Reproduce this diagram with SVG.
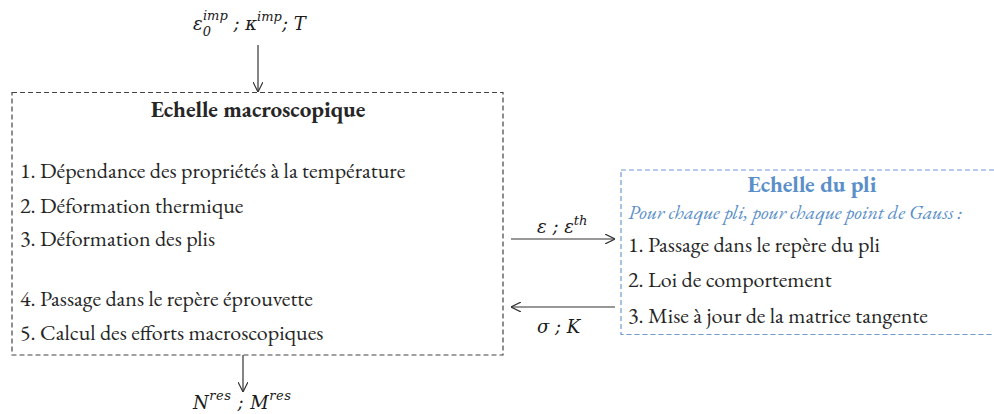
<svg xmlns="http://www.w3.org/2000/svg" width="994" height="414" viewBox="0 0 994 414">
<defs>
<style>
.t{font-family:"EB Garamond","Liberation Serif",serif;font-size:22px;fill:#262626}
.h{font-weight:bold;font-size:23px}
.b{fill:#5B8FC9}
.i{font-style:italic;font-size:20px}
.m{font-family:"DejaVu Serif","Liberation Serif",serif;font-style:italic;font-size:18px;fill:#1a1a1a}
.s{font-size:13px}
.box{fill:none;stroke:#444;stroke-width:1.2;stroke-dasharray:5,3}
.boxb{fill:none;stroke:#6A9AD0;stroke-width:1.2;stroke-dasharray:5,3}
.c{stroke:#333;stroke-width:1.2;fill:none;marker-end:url(#a)}
</style>
<marker id="a" viewBox="0 0 10 10" refX="10" refY="5" markerWidth="10" markerHeight="10" markerUnits="userSpaceOnUse" orient="auto">
<path d="M0,0 L10,5 L0,10" fill="none" stroke="#333" stroke-width="1.2"/>
</marker>
</defs>
<rect width="994" height="414" fill="#fff"/>
<g id="connectors">
<line class="c" x1="258" y1="45" x2="258" y2="92"/>
<line class="c" x1="243" y1="355" x2="243" y2="392"/>
<line class="c" x1="511" y1="239" x2="615" y2="239"/>
<line class="c" x1="615" y1="307" x2="511" y2="307"/>
</g>
<g id="input">
<text class="m" x="193" y="30">ε<tspan class="s" dy="6">0</tspan><tspan class="s" dx="-8" dy="-16">imp</tspan><tspan dy="10"> ; κ</tspan><tspan class="s" dy="-9">imp</tspan><tspan dy="9">; T</tspan></text>
</g>
<g id="output">
<text class="m" x="193" y="409" letter-spacing="0.5">N<tspan class="s" dy="-9">res</tspan><tspan dy="9"> ; M</tspan><tspan class="s" dy="-9">res</tspan></text>
</g>
<g id="macro">
<rect class="box" x="12" y="92.5" width="491" height="262.5"/>
<text class="t h" x="258" y="117" text-anchor="middle">Echelle macroscopique</text>
<text class="t" x="20" y="178">1. Dépendance des propriétés à la température</text>
<text class="t" x="20" y="213">2. Déformation thermique</text>
<text class="t" x="20" y="246">3. Déformation des plis</text>
<text class="t" x="20" y="306">4. Passage dans le repère éprouvette</text>
<text class="t" x="20" y="340">5. Calcul des efforts macroscopiques</text>
</g>
<g id="pli">
<rect class="boxb" x="621" y="170" width="375" height="164.5"/>
<text class="t h b" x="812" y="192" text-anchor="middle">Echelle du pli</text>
<text class="t i b" x="628" y="219">Pour chaque pli, pour chaque point de Gauss :</text>
<text class="t" x="628" y="252">1. Passage dans le repère du pli</text>
<text class="t" x="628" y="287">2. Loi de comportement</text>
<text class="t" x="628" y="323">3. Mise à jour de la matrice tangente</text>
</g>
<g id="labels">
<text class="m" x="537" y="233">ε ; ε<tspan class="s" dy="-8">th</tspan></text>
<text class="m" x="537" y="333">σ ; K</text>
</g>
</svg>
